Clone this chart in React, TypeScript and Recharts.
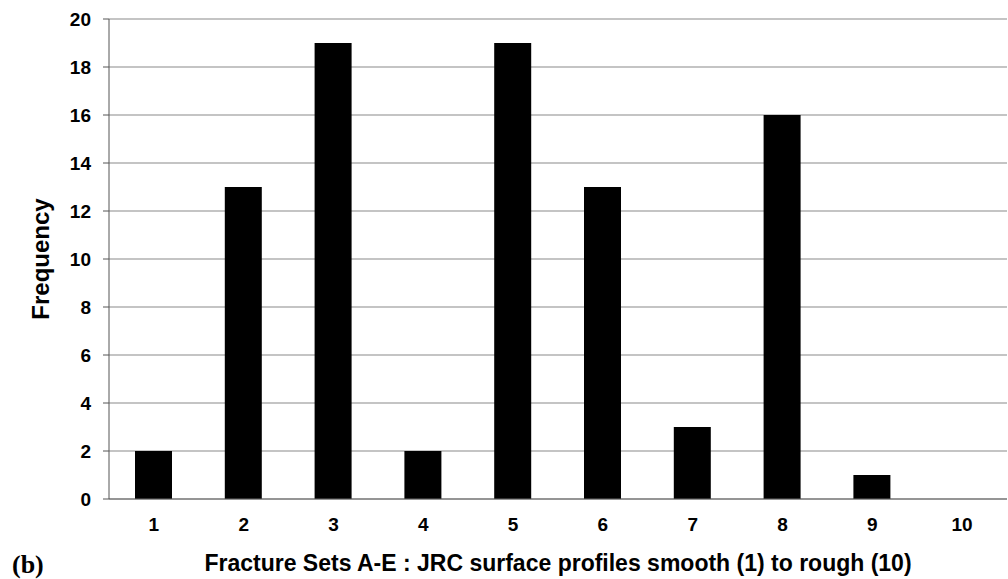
import { BarChart, Bar, XAxis, YAxis, CartesianGrid } from "recharts";

const categories = ["1", "2", "3", "4", "5", "6", "7", "8", "9", "10"];
const frequency = [2, 13, 19, 2, 19, 13, 3, 16, 1, 0];
const yTicks = [0, 2, 4, 6, 8, 10, 12, 14, 16, 18, 20];
const boundaryTicks = [0, 1, 2, 3, 4, 5, 6, 7, 8, 9, 10];

const data = categories.map((name, i) => ({ name, frequency: frequency[i] }));

const font = "'Liberation Sans', Arial, sans-serif";
const tickStyle = { fill: "#000", fontSize: 19, fontWeight: 700, fontFamily: font };

export default function App() {
  return (
    <div style={{ position: "absolute", left: 0, top: 0, width: 1008, height: 579, background: "#fff" }}>
      <BarChart width={1008} height={579} data={data} margin={{ top: 19, right: 1, bottom: 0, left: 0 }}>
        <CartesianGrid xAxisId="cat" horizontal vertical={false} stroke="#8a8a8a" strokeWidth={1.2} />
        {/* boundary ticks between categories, drawn along the plot bottom */}
        <XAxis
          xAxisId="bounds"
          type="number"
          domain={[0, 10]}
          ticks={boundaryTicks}
          height={1}
          tick={false}
          tickSize={6}
          stroke="#666"
          allowDataOverflow
        />
        <XAxis
          xAxisId="cat"
          dataKey="name"
          height={79}
          axisLine={false}
          tickLine={false}
          tickSize={6}
          tickMargin={12}
          tick={tickStyle}
          interval={0}
          label={{ value: "Fracture Sets A-E : JRC surface profiles smooth (1) to rough (10)", position: "insideBottom", offset: 8, style: { fill: "#000", fontSize: 23, fontWeight: 700, fontFamily: font } }}
        />
        <YAxis
          width={109}
          domain={[0, 20]}
          ticks={yTicks}
          interval={0}
          tickSize={6}
          tickMargin={12}
          stroke="#555"
          tick={tickStyle}
          label={{ value: "Frequency", angle: -90, position: "insideLeft", offset: 40, style: { textAnchor: "middle", fill: "#000", fontSize: 24, fontWeight: 700, fontFamily: font } }}
        />
        <YAxis yAxisId="right" orientation="right" width={0} tick={false} tickLine={false} stroke="#999" domain={[0, 20]} />
        <Bar xAxisId="cat" dataKey="frequency" fill="#000" barSize={37} isAnimationActive={false} />
      </BarChart>
      <span style={{ position: "absolute", left: 12, top: 550, fontFamily: "'Liberation Serif', 'Times New Roman', serif", fontWeight: 700, fontSize: 26, color: "#000" }}>(b)</span>
    </div>
  );
}
